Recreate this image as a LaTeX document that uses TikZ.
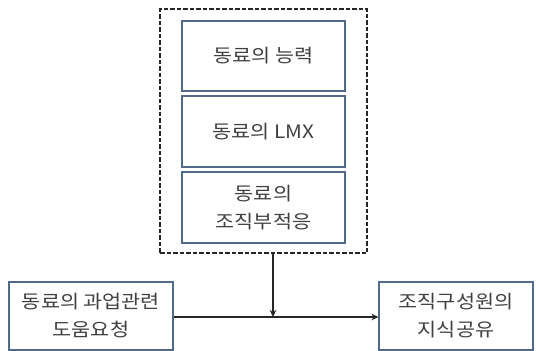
\documentclass[tikz,border=0pt]{standalone}
\usepackage{fontspec}
\newfontfamily\kr[FakeStretch=1.12]{Noto Sans CJK KR}
\usetikzlibrary{arrows.meta}
\definecolor{boxline}{HTML}{4F6A8A}
\definecolor{txt}{HTML}{404040}
\begin{document}
\begin{tikzpicture}[x=1pt,y=-1pt,
  box/.style={draw=boxline,line width=1.1pt,fill=white,inner sep=0pt,align=center,text=txt,
    font=\kr\fontsize{18.5}{28}\selectfont},
  dashbox/.style={draw=black!85,line width=1.8pt,dash pattern=on 4.5pt off 2pt,inner sep=0pt},
  conn/.style={draw=black!85,line width=2pt},
  tip/.style={-{Stealth[length=7pt,width=6.5pt]}}]
\useasboundingbox (0,0) rectangle (536,351);
\node[dashbox,minimum width=207pt,minimum height=244pt] (grp) at (263.5,131) {};
\node[box,minimum width=163pt,minimum height=70pt] (b1) at (263.5,56) {동료의 능력};
\node[box,minimum width=163pt,minimum height=71pt] (b2) at (263.5,131.5) {동료의 LMX};
\node[box,minimum width=163pt,minimum height=71pt] (b3) at (263.5,207.5) {동료의\\조직부적응};
\node[box,minimum width=164pt,minimum height=68pt] (left) at (91,316) {동료의 과업관련\\도움요청};
\node[box,minimum width=154pt,minimum height=68pt] (right) at (456,316) {조직구성원의\\지식공유};
\coordinate (top) at (273,253);
\coordinate (mid) at (273,317);
\draw[conn,tip] (top) -- (mid);
\draw[conn,tip] (left.east |- mid) -- (right.west |- mid);
\end{tikzpicture}
\end{document}
